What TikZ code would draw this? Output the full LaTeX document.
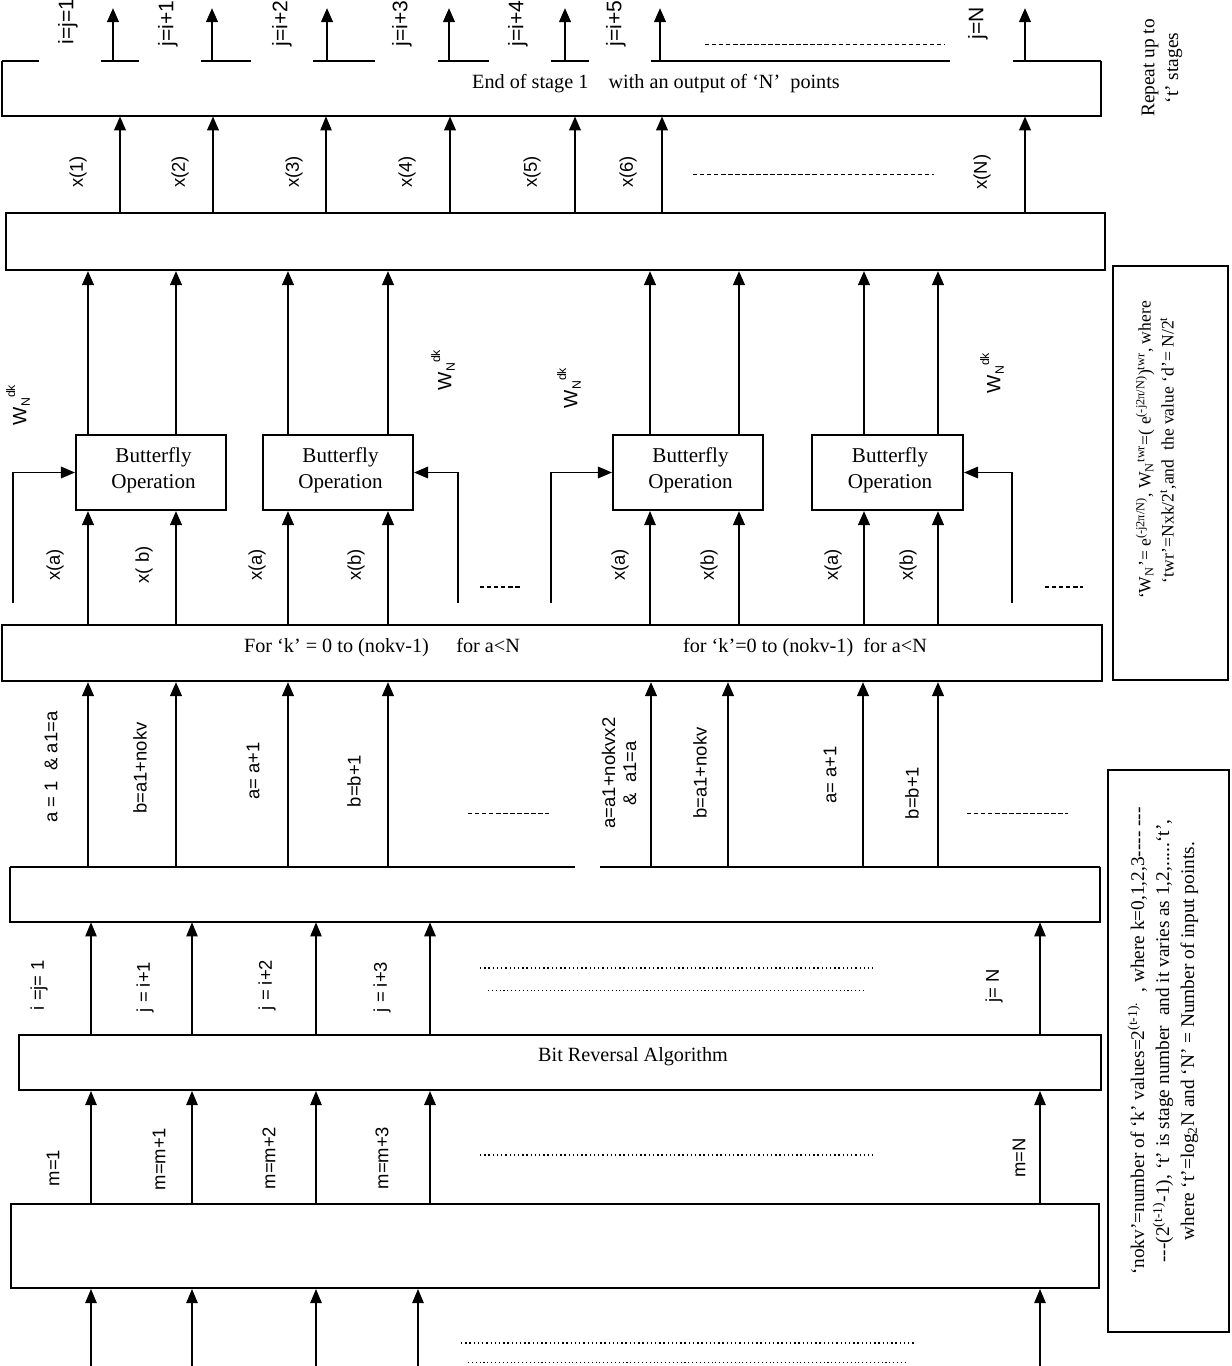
\documentclass[tikz,border=0pt]{standalone}
\usepackage{fontspec}
\setmainfont{Liberation Serif}
\newfontfamily\lsans{Liberation Sans}
\usetikzlibrary{arrows.meta,fit}
\begin{document}
\begin{tikzpicture}[x=0.02cm,y=-0.02cm,
  bline/.style={line width=1.1pt},
  box/.style={draw,line width=1.1pt,inner sep=0pt},
  nbox/.style={inner sep=0pt},
  arr/.style={line width=1.5pt,-{Triangle[length=8pt,width=6.5pt]}},
  marr/.style={line width=1.1pt,-{Triangle[length=8pt,width=6.5pt]}},
  tarr/.style={line width=0.7pt,-{Triangle[length=8pt,width=6.5pt]}},
  lab/.style={rotate=90,font=\lsans\fontsize{10.5}{12}\selectfont,inner sep=0pt},
  tlab/.style={rotate=90,font=\lsans\fontsize{12}{14}\selectfont,inner sep=0pt,anchor=west},
  txt/.style={font=\fontsize{11.5}{13}\selectfont,inner sep=0pt},
  side/.style={rotate=90,font=\fontsize{11}{13.5}\selectfont,inner sep=0pt,align=center},
  dsh/.style={line width=0.5pt,dash pattern=on 2.5pt off 1.5pt},
  bdsh/.style={line width=1pt,dash pattern=on 2.5pt off 1.5pt},
  dot/.style={line width=0.6pt,dash pattern=on 0.8pt off 1.6pt},
  fdot/.style={line width=0.4pt,dash pattern=on 0.6pt off 1.6pt},
]
\useasboundingbox (0,0) rectangle (1231,1366);

% ---------- top box: end of stage 1 ----------
\node[nbox,fit={(2,61)(1101,116)}] (B1) {};
\draw[bline] (B1.north west) -- (B1.south west) -- (B1.south east) -- (B1.north east);
\foreach \a/\b in {2/39,101/139,201/251,313/375,438/489,551/589,651/950,1013/1101}
  \draw[bline] (\a,61) -- (\b,61);
\node[txt] (t1) at (656,84) {End of stage 1\quad with an output of ‘N’\ \ points};
\foreach \x/\n in {113/1,212/2,327/3,449/4,565/5,660/6,1025/7}{
  \coordinate (o\n) at (\x,8);
  \draw[arr] (B1.north -| \x,0) -- (o\n);
}
\node[tlab] (ol1) at (68,45) {i=j=1};
\node[tlab] (ol2) at (168,47) {j=i+1};
\node[tlab] (ol3) at (282,47) {j=i+2};
\node[tlab] (ol4) at (402,47) {j=i+3};
\node[tlab] (ol5) at (518,47) {j=i+4};
\node[tlab] (ol6) at (616,47) {j=i+5};
\node[tlab] (ol7) at (978,40) {j=N};
\draw[dsh] (705,44) -- (945,44);
\node[side] (rep) at (1162,68) {Repeat up to\\ ‘t’ stages};

% ---------- second box ----------
\node[box,fit={(6,213)(1105,270)}] (B2) {};
\draw[arr] (B2.north -| 120,0) -- (B1.south -| 120,0);
\draw[arr] (B2.north -| 213,0) -- (B1.south -| 213,0);
\draw[tarr] (B2.north -| 326,0) -- (B1.south -| 326,0);
\draw[arr] (B2.north -| 450,0) -- (B1.south -| 450,0);
\draw[arr] (B2.north -| 575,0) -- (B1.south -| 575,0);
\draw[arr] (B2.north -| 662,0) -- (B1.south -| 662,0);
\draw[arr] (B2.north -| 1025,0) -- (B1.south -| 1025,0);
\node[lab] (xl1) at (78,172) {x(1)};
\node[lab] (xl2) at (180,172) {x(2)};
\node[lab] (xl3) at (294,172) {x(3)};
\node[lab] (xl4) at (407,172) {x(4)};
\node[lab] (xl5) at (532,172) {x(5)};
\node[lab] (xl6) at (628,172) {x(6)};
\node[lab] (xl7) at (982,172) {x(N)};
\draw[dsh] (693,174) -- (934,174);

% ---------- butterflies ----------
\node[box,fit={(76,435)(226,510)}] (BF1) {};
\node[box,fit={(263,435)(413,510)}] (BF2) {};
\node[box,fit={(613,435)(763,510)}] (BF3) {};
\node[box,fit={(812,435)(963,510)}] (BF4) {};
\foreach \b in {1,2,3,4}
  \node[align=center,font=\fontsize{12}{14.5}\selectfont,inner sep=0pt] (BT\b) at ([xshift=0.05cm,yshift=0.04cm]BF\b.center) {Butterfly\\Operation};
\draw[arr] (BF1.north -| 88,0) -- (B2.south -| 88,0);
\draw[arr] (BF1.north -| 176,0) -- (B2.south -| 176,0);
\draw[arr] (BF2.north -| 288,0) -- (B2.south -| 288,0);
\draw[arr] (BF2.north -| 388,0) -- (B2.south -| 388,0);
\draw[arr] (BF3.north -| 650,0) -- (B2.south -| 650,0);
\draw[arr] (BF3.north -| 739,0) -- (B2.south -| 739,0);
\draw[arr] (BF4.north -| 864,0) -- (B2.south -| 864,0);
\draw[arr] (BF4.north -| 938,0) -- (B2.south -| 938,0);
\tikzset{wlab/.style={rotate=90,font=\lsans\fontsize{11}{13}\selectfont,inner sep=0pt}}
\node[wlab] (w1) at (18,405) {W\raisebox{-0.35ex}{\scriptsize N}\raisebox{1.1ex}{\scriptsize dk}};
\node[wlab] (w2) at (443,370) {W\raisebox{-0.35ex}{\scriptsize N}\raisebox{1.1ex}{\scriptsize dk}};
\node[wlab] (w3) at (569,388) {W\raisebox{-0.35ex}{\scriptsize N}\raisebox{1.1ex}{\scriptsize dk}};
\node[wlab] (w4) at (992,373) {W\raisebox{-0.35ex}{\scriptsize N}\raisebox{1.1ex}{\scriptsize dk}};
\coordinate (s1) at (13,603);
\coordinate (s2) at (458,603);
\coordinate (s3) at (551,603);
\coordinate (s4) at (1012,603);
\draw[marr] (s1) |- (BF1.west);
\draw[marr] (s2) |- (BF2.east);
\draw[marr] (s3) |- (BF3.west);
\draw[marr] (s4) |- (BF4.east);

% ---------- for box ----------
\node[box,fit={(2,625)(1102,681)}] (FB) {};
\node[txt] (ft1) at (382,648) {For ‘k’ = 0 to (nokv-1)\hspace{0.55cm}for a<N};
\node[txt] (ft2) at (805,648) {for ‘k’=0 to (nokv-1)\ \ for a<N};
\draw[arr] (FB.north -| 88,0) -- (BF1.south -| 88,0);
\draw[arr] (FB.north -| 176,0) -- (BF1.south -| 176,0);
\draw[arr] (FB.north -| 288,0) -- (BF2.south -| 288,0);
\draw[arr] (FB.north -| 388,0) -- (BF2.south -| 388,0);
\draw[tarr] (FB.north -| 650,0) -- (BF3.south -| 650,0);
\draw[arr] (FB.north -| 739,0) -- (BF3.south -| 739,0);
\draw[arr] (FB.north -| 864,0) -- (BF4.south -| 864,0);
\draw[arr] (FB.north -| 938,0) -- (BF4.south -| 938,0);
\node[lab] (xa1) at (55,565) {x(a)};
\node[lab] (xb1) at (144,565) {x( b)};
\node[lab] (xa2) at (257,565) {x(a)};
\node[lab] (xb2) at (356,565) {x(b)};
\node[lab] (xa3) at (620,565) {x(a)};
\node[lab] (xb3) at (709,565) {x(b)};
\node[lab] (xa4) at (833,565) {x(a)};
\node[lab] (xb4) at (908,565) {x(b)};
\draw[bdsh] (480,587) -- (520,587);
\draw[bdsh] (1045,587) -- (1083,587);

% ---------- third box ----------
\node[nbox,fit={(10,867)(1100,922)}] (B3) {};
\draw[bline] (B3.north west) -- (B3.south west) -- (B3.south east) -- (B3.north east);
\draw[bline] (10,867) -- (575,867);
\draw[bline] (600,867) -- (1100,867);
\foreach \x in {88,176,288,388,651,728,863,938}
  \draw[arr] (B3.north -| \x,0) -- (FB.south -| \x,0);
\node[lab] (d1) at (51,767) {a = 1\ \ \& a1=a};
\node[lab] (d2) at (140,768) {b=a1+nokv};
\node[lab] (d3) at (253,771) {a= a+1};
\node[lab] (d4) at (354,781) {b=b+1};
\node[lab,align=center] (d5) at (619,773) {a=a1+nokvx2\\ \&\ \ a1=a};
\node[lab] (d6) at (700,773) {b=a1+nokv};
\node[lab] (d7) at (830,775) {a= a+1};
\node[lab] (d8) at (912,793) {b=b+1};
\draw[dsh] (468,813) -- (549,813);
\draw[dsh] (967,813) -- (1068,813);

% ---------- bit reversal ----------
\node[box,fit={(19,1035)(1101,1090)}] (BR) {};
\node[txt] (brt) at (633,1057) {Bit Reversal Algorithm};
\draw[tarr] (BR.north -| 91,0) -- (B3.south -| 91,0);
\draw[tarr] (BR.north -| 192,0) -- (B3.south -| 192,0);
\draw[tarr] (BR.north -| 316,0) -- (B3.south -| 316,0);
\draw[marr] (BR.north -| 430,0) -- (B3.south -| 430,0);
\draw[tarr] (BR.north -| 1040,0) -- (B3.south -| 1040,0);
\node[lab] (e1) at (39,985) {i =j= 1};
\node[lab] (e2) at (145,987) {j = i+1};
\node[lab] (e3) at (267,985) {j = i+2};
\node[lab] (e4) at (382,987) {j = i+3};
\node[lab] (e5) at (994,986) {j= N};
\draw[dot] (480,968) -- (873,968);
\draw[fdot] (488,990) -- (863,990);

% ---------- input box ----------
\node[box,fit={(11,1204)(1099,1288)}] (B4) {};
\draw[tarr] (B4.north -| 91,0) -- (BR.south -| 91,0);
\draw[tarr] (B4.north -| 192,0) -- (BR.south -| 192,0);
\draw[tarr] (B4.north -| 316,0) -- (BR.south -| 316,0);
\draw[marr] (B4.north -| 430,0) -- (BR.south -| 430,0);
\draw[tarr] (B4.north -| 1040,0) -- (BR.south -| 1040,0);
\node[lab] (f1) at (53,1168) {m=1};
\node[lab] (f2) at (159,1159) {m=m+1};
\node[lab] (f3) at (269,1158) {m=m+2};
\node[lab] (f4) at (382,1158) {m=m+3};
\node[lab] (f5) at (1019,1158) {m=N};
\draw[dot] (480,1155) -- (873,1155);
\foreach \x/\n in {91/1,192/2,316/3,418/4,1040/5}{
  \coordinate (in\n) at (\x,1366);
  \draw[tarr] (in\n) -- (B4.south -| \x,0);
}
\draw[dot] (461,1343) -- (916,1343);
\draw[fdot] (468,1362) -- (908,1362);

% ---------- side notes ----------
\node[box,fit={(1113,266)(1228,680)}] (SW) {};
\node[side,font=\fontsize{10}{13}\selectfont] (swt) at (1156,450) {‘W\textsubscript{N}’= e\textsuperscript{(-j2π/N)}, W\textsubscript{N}\textsuperscript{twr}=( e\textsuperscript{(-j2π/N)})\textsuperscript{twr}, where\\
  ‘twr’=Nxk/2\textsuperscript{t},and\ \ the value ‘d’= N/2\textsuperscript{t}};
\node[box,fit={(1108,770)(1229,1332)}] (SN) {};
\node[side,font=\fontsize{11}{14.2}\selectfont] (snt) at (1163,1041) {‘nokv’=number of ‘k’ values=2\textsuperscript{(t-1).}\ \ , where k=0,1,2,3-{}-{}-{}- -{}-{}-\\
  -{}-{}-(2\textsuperscript{(t-1)}-1), ‘t’ is stage number\ \ and it varies as 1,2,.....‘t’,\\
  where ‘t’=log\textsubscript{2}N and ‘N’ = Number of input points.};
\end{tikzpicture}
\end{document}
